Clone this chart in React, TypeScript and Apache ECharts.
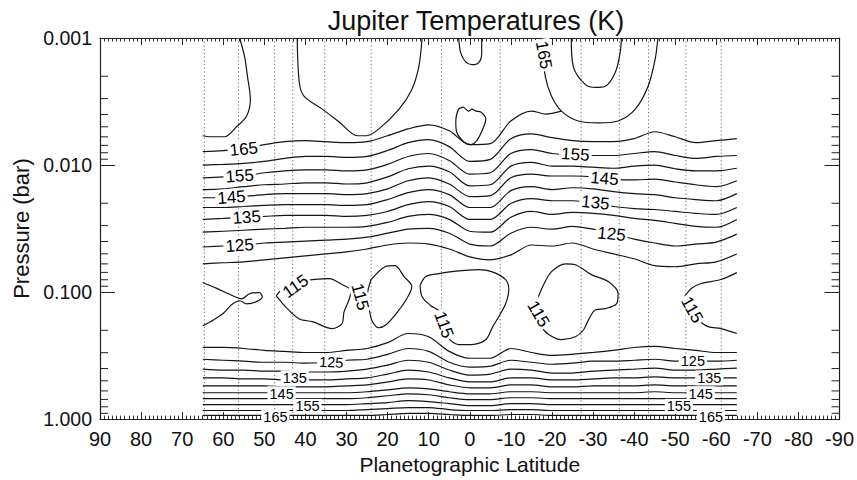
import React, { useEffect, useRef } from 'react';
import * as echarts from 'echarts';

const FONT = '"Liberation Sans", Arial, Helvetica, sans-serif';
const INK = '#151515';

// latitudes (deg) at which the stacked isotherms are sampled
const LAT_GRID = [65, 60, 55, 50, 45, 40, 35, 30, 25, 20, 15, 10, 5, 0, -5, -10, -15, -20, -25, -30, -35, -40, -45, -50, -55, -60, -65];

// upper-troposphere / stratosphere isotherms, pressure (bar) on LAT_GRID
const LAT_165 = [65, 60, 55, 50, 45, 40, 35, 30, 25, 20, 15, 10, 5, 0, -5, -10, -15, -18.5, -22.3];
const P_165 = [0.00783, 0.00769, 0.00742, 0.00691, 0.00655, 0.00643, 0.00655, 0.00667, 0.00655, 0.00588, 0.00519, 0.00483, 0.00538, 0.00691, 0.00679, 0.0045, 0.00376, 0.00397, 0.00376];
const P_160 = [0.01, 0.00988, 0.0097, 0.00936, 0.00887, 0.00856, 0.00856, 0.00871, 0.00856, 0.00769, 0.00667, 0.00632, 0.00716, 0.00936, 0.00903, 0.0062, 0.00568, 0.00609, 0.00643, 0.00655, 0.00655, 0.0062, 0.00547, 0.00599, 0.00667, 0.00643, 0.0062];
const P_155 = [0.0126, 0.0124, 0.0122, 0.0115, 0.0111, 0.0109, 0.0109, 0.0111, 0.0109, 0.00988, 0.00856, 0.00811, 0.0092, 0.0118, 0.0115, 0.00811, 0.00755, 0.00811, 0.00826, 0.00841, 0.00841, 0.00811, 0.00783, 0.00841, 0.00887, 0.00856, 0.00841];
const P_150 = [0.0156, 0.0154, 0.0148, 0.0143, 0.0141, 0.0138, 0.0138, 0.0141, 0.0138, 0.0124, 0.0107, 0.0102, 0.0113, 0.0146, 0.0143, 0.0102, 0.00953, 0.0102, 0.0102, 0.0104, 0.0106, 0.0102, 0.01, 0.0107, 0.0111, 0.0111, 0.0106];
const P_145 = [0.0181, 0.0181, 0.0177, 0.0171, 0.0168, 0.0168, 0.0168, 0.0171, 0.0168, 0.0154, 0.0133, 0.0126, 0.0141, 0.0177, 0.0174, 0.0126, 0.0118, 0.0122, 0.0122, 0.0124, 0.0131, 0.0131, 0.0129, 0.0136, 0.0143, 0.0148, 0.0133];
const P_140 = [0.0216, 0.0216, 0.0212, 0.0208, 0.0205, 0.0205, 0.0205, 0.0208, 0.0205, 0.0187, 0.0165, 0.0156, 0.0171, 0.0216, 0.0216, 0.0159, 0.0148, 0.0156, 0.0151, 0.0154, 0.0162, 0.0168, 0.0171, 0.0181, 0.0187, 0.0191, 0.0168];
const P_135 = [0.0268, 0.0263, 0.0258, 0.0254, 0.0249, 0.0249, 0.0249, 0.0254, 0.0249, 0.0232, 0.0205, 0.0194, 0.0212, 0.0268, 0.0268, 0.0201, 0.0184, 0.0191, 0.0191, 0.0198, 0.0212, 0.022, 0.0224, 0.0232, 0.024, 0.0245, 0.0216];
const P_130 = [0.0338, 0.0332, 0.0326, 0.032, 0.0315, 0.0309, 0.0309, 0.0309, 0.0304, 0.0283, 0.0254, 0.0245, 0.0268, 0.0332, 0.0338, 0.0258, 0.0232, 0.0245, 0.0236, 0.024, 0.0249, 0.0263, 0.0273, 0.0288, 0.0304, 0.0309, 0.0268];
const P_125 = [0.0442, 0.0434, 0.0426, 0.0411, 0.0404, 0.0397, 0.039, 0.0383, 0.037, 0.0344, 0.032, 0.0315, 0.0344, 0.0419, 0.0434, 0.0344, 0.0309, 0.032, 0.0304, 0.032, 0.035, 0.0383, 0.0411, 0.0434, 0.0419, 0.0404, 0.035];
const P_120 = [0.0599, 0.0588, 0.0578, 0.0557, 0.0538, 0.0519, 0.0501, 0.0483, 0.0458, 0.0426, 0.0411, 0.0419, 0.0458, 0.0528, 0.0557, 0.051, 0.0426, 0.0434, 0.0411, 0.0458, 0.0501, 0.0547, 0.062, 0.0632, 0.0599, 0.0578, 0.0501];

// lower-troposphere isotherms, pressure (bar) on LAT_GRID
const PL_120 = [0.273, 0.273, 0.278, 0.288, 0.293, 0.299, 0.299, 0.288, 0.278, 0.25, 0.212, 0.225, 0.293, 0.332, 0.332, 0.278, 0.299, 0.315, 0.309, 0.299, 0.288, 0.273, 0.268, 0.278, 0.288, 0.299, 0.299];
const PL_125 = [0.338, 0.344, 0.35, 0.357, 0.357, 0.363, 0.357, 0.344, 0.338, 0.309, 0.278, 0.293, 0.357, 0.39, 0.383, 0.344, 0.357, 0.37, 0.363, 0.35, 0.35, 0.344, 0.338, 0.35, 0.35, 0.35, 0.344];
const PL_130 = [0.404, 0.411, 0.411, 0.419, 0.419, 0.426, 0.426, 0.419, 0.404, 0.376, 0.344, 0.357, 0.411, 0.45, 0.442, 0.404, 0.411, 0.434, 0.434, 0.419, 0.411, 0.404, 0.397, 0.411, 0.411, 0.404, 0.397];
const PL_135 = [0.474, 0.474, 0.483, 0.483, 0.492, 0.492, 0.492, 0.483, 0.474, 0.442, 0.411, 0.426, 0.474, 0.51, 0.51, 0.474, 0.474, 0.492, 0.492, 0.483, 0.474, 0.474, 0.466, 0.474, 0.474, 0.474, 0.474];
const PL_140 = [0.547, 0.547, 0.547, 0.547, 0.557, 0.557, 0.557, 0.547, 0.538, 0.51, 0.483, 0.492, 0.538, 0.567, 0.567, 0.538, 0.538, 0.557, 0.557, 0.547, 0.547, 0.547, 0.538, 0.547, 0.547, 0.547, 0.547];
const PL_145 = [0.62, 0.62, 0.62, 0.62, 0.62, 0.62, 0.62, 0.62, 0.609, 0.588, 0.567, 0.578, 0.609, 0.632, 0.632, 0.609, 0.609, 0.62, 0.62, 0.62, 0.62, 0.62, 0.609, 0.62, 0.62, 0.62, 0.62];
const PL_150 = [0.691, 0.691, 0.691, 0.691, 0.691, 0.691, 0.691, 0.691, 0.679, 0.655, 0.632, 0.643, 0.679, 0.703, 0.703, 0.679, 0.679, 0.691, 0.691, 0.691, 0.691, 0.691, 0.691, 0.691, 0.691, 0.691, 0.691];
const PL_155 = [0.769, 0.769, 0.769, 0.769, 0.769, 0.769, 0.769, 0.769, 0.755, 0.742, 0.716, 0.729, 0.755, 0.783, 0.783, 0.755, 0.755, 0.769, 0.769, 0.769, 0.769, 0.769, 0.769, 0.769, 0.769, 0.769, 0.769];
const PL_160 = [0.856, 0.856, 0.856, 0.856, 0.856, 0.856, 0.856, 0.856, 0.841, 0.826, 0.811, 0.811, 0.841, 0.856, 0.856, 0.841, 0.841, 0.856, 0.856, 0.856, 0.856, 0.856, 0.856, 0.856, 0.856, 0.856, 0.856];
const PL_165 = [0.936, 0.936, 0.936, 0.936, 0.936, 0.936, 0.936, 0.936, 0.936, 0.92, 0.903, 0.903, 0.92, 0.936, 0.936, 0.92, 0.92, 0.936, 0.936, 0.936, 0.936, 0.936, 0.936, 0.936, 0.936, 0.936, 0.936];

// cold 115 K pockets near the tropopause, [latitude, pressure]
const COLD_A: [number, number][] = [[65, 0.0841], [61.6, 0.0936], [57.7, 0.107], [55.55, 0.113], [53.6, 0.103], [51.2, 0.101], [50.5, 0.109], [51.9, 0.119], [54.3, 0.124], [56, 0.117], [58, 0.126], [59.9, 0.146], [62.3, 0.165], [64.5, 0.181], [65, 0.184]];
const COLD_B: [number, number][] = [[47.1, 0.107], [45.1, 0.0903], [42.7, 0.0826], [38.3, 0.0797], [34.2, 0.0783], [31.1, 0.0871], [28.9, 0.097], [29.4, 0.115], [30.6, 0.143], [31.1, 0.177], [33.5, 0.194], [38.3, 0.171], [41.5, 0.163], [44.6, 0.133], [47.1, 0.107]];
const COLD_C: [number, number][] = [[24, 0.0797], [20.6, 0.0632], [18.2, 0.062], [16, 0.0755], [14.1, 0.0903], [15.5, 0.115], [18, 0.149], [20.4, 0.181], [22.1, 0.191], [23.8, 0.168], [24.5, 0.135], [25, 0.109], [24, 0.0797]];
const COLD_D: [number, number][] = [[12.1, 0.0887], [10.7, 0.0755], [7.5, 0.0716], [4.4, 0.0691], [-2.2, 0.0667], [-5.3, 0.0691], [-8.7, 0.0797], [-9.5, 0.0953], [-8.7, 0.124], [-7, 0.157], [-5.6, 0.187], [-3.9, 0.237], [-0.5, 0.259], [2.7, 0.259], [5.1, 0.233], [5.8, 0.194], [7.5, 0.141], [9.5, 0.128], [11.6, 0.109], [12.1, 0.0887]];
const COLD_E: [number, number][] = [[-16.7, 0.109], [-18, 0.0871], [-19.9, 0.0691], [-23.3, 0.0599], [-25.7, 0.0609], [-29.6, 0.0729], [-33.7, 0.0826], [-36.1, 0.103], [-35.7, 0.124], [-33, 0.135], [-30.6, 0.138], [-28.9, 0.165], [-27.7, 0.198], [-25.7, 0.225], [-22.3, 0.237], [-19.2, 0.216], [-17.5, 0.187], [-16.3, 0.131], [-16.7, 0.109]];
const COLD_F: [number, number][] = [[-65, 0.0703], [-61.1, 0.0797], [-56.3, 0.0856], [-53.9, 0.0936], [-52.6, 0.105], [-51.9, 0.117], [-53.1, 0.135], [-55.5, 0.165], [-58, 0.187], [-61.1, 0.194], [-63.6, 0.205], [-65, 0.212]];

// warm stratospheric isotherms reaching the top boundary
const WARM_NORTH: [number, number][] = [[65, 0.00588], [63.3, 0.00599], [59.7, 0.00599], [56.8, 0.00501], [54.3, 0.00411], [53.4, 0.00304], [54.1, 0.00201], [54.8, 0.00141], [56, 0.001]];
const WARM_MID: [number, number][] = [[42, 0.001], [41.5, 0.00224], [40.3, 0.00288], [35.9, 0.00363], [31.8, 0.00458], [27.4, 0.00588], [25.2, 0.00588], [22.1, 0.00519], [17.2, 0.00363], [14.1, 0.00254], [12.4, 0.00168], [11.6, 0.001]];
const WARM_EQ_TOP: [number, number][] = [[2.7, 0.001], [2.2, 0.00131], [1, 0.00154], [-0.5, 0.00162], [-2.2, 0.00156], [-2.9, 0.00131], [-2.9, 0.001]];
const WARM_EQ_CELL: [number, number][] = [[1.5, 0.0035], [2.7, 0.00363], [3.4, 0.00458], [3.2, 0.00547], [1.5, 0.00655], [-0.2, 0.00691], [-1.7, 0.00643], [-3.2, 0.00519], [-3.9, 0.00434], [-2.7, 0.00383], [-1.5, 0.00376], [-0.5, 0.00363], [0.2, 0.00376], [1.5, 0.0035]];
const WARM_SOUTH: [number, number][] = [[-17.2, 0.001], [-18.4, 0.00201], [-19.9, 0.00288], [-22.3, 0.00376], [-26.4, 0.0045], [-31.3, 0.00466], [-36.1, 0.0045], [-40.3, 0.00363], [-43.4, 0.0024], [-45.1, 0.00148], [-45.8, 0.001]];
const WARM_SOUTH_IN: [number, number][] = [[-24.7, 0.001], [-25.2, 0.00168], [-28.1, 0.00232], [-30.6, 0.00245], [-33, 0.0024], [-35.4, 0.00187], [-36.6, 0.00131], [-36.9, 0.001]];

// contour labels: [text, latitude, pressure, rotation in degrees]
const LABELS_UPPER: [string, number, number, number][] = [
  ['165', 55, 0.0075, 6], ['155', 56, 0.0122, 4], ['145', 58, 0.018, 4], ['135', 54.3, 0.0258, 4], ['125', 56, 0.043, 4],
  ['155', -25.7, 0.00826, -4], ['145', -32.8, 0.0128, -5], ['135', -30.6, 0.0198, -6], ['125', -34.5, 0.035, -6],
  ['165', -18, 0.00136, -80],
  ['115', 42.4, 0.0903, 35], ['115', 26.7, 0.109, -75], ['115', 6.3, 0.181, -70], ['115', -16.7, 0.149, -60], ['115', -54.1, 0.138, -60],
];
const LABELS_LOWER: [string, number, number, number][] = [
  ['125', 33.7, 0.357, -3], ['135', 42.6, 0.474, 0], ['145', 45.8, 0.632, 0], ['155', 39.5, 0.794, 0], ['165', 47.3, 0.96, 0],
  ['125', -54.3, 0.352, 0], ['135', -58.3, 0.474, 0], ['145', -56.2, 0.632, 0], ['155', -50.9, 0.794, 0], ['165', -58.7, 0.96, 0],
];

// latitudes of the dotted reference meridians
const DOTTED_LATS = [64.6, 56.3, 47.5, 43.1, 35.3, 24.0, 6.9, -7.4, -27.1, -36.4, -43.5, -52.6, -61.2];

// log-axis minor tick values (bar)
const MINOR_P = [0.002, 0.003, 0.004, 0.005, 0.006, 0.007, 0.008, 0.009, 0.02, 0.03, 0.04, 0.05, 0.06, 0.07, 0.08, 0.09, 0.2, 0.3, 0.4, 0.5, 0.6, 0.7, 0.8, 0.9];

const onGrid = (p: number[]) => LAT_GRID.map((lat, i) => [lat, p[i]]);

function contour(data: number[][]) {
  return {
    type: 'line',
    data,
    showSymbol: false,
    symbol: 'none',
    smooth: 0.3,
    silent: true,
    z: 2,
    lineStyle: { color: INK, width: 1.2 },
  };
}

// level labels drawn at their contour positions, with a white box breaking the line
function labelSeries(rows: [string, number, number, number][], fontSize: number) {
  return {
    type: 'custom',
    data: rows.map(([, lat, p]) => [lat, p]),
    encode: { x: 0, y: 1 },
    silent: true,
    z: 6,
    renderItem: (params: any, api: any) => {
      const [text, , , rot] = rows[params.dataIndex];
      const c = api.coord([api.value(0), api.value(1)]);
      return {
        type: 'text',
        x: c[0],
        y: c[1],
        rotation: (rot * Math.PI) / 180,
        style: {
          text,
          fill: '#000',
          font: `${fontSize}px ${FONT}`,
          align: 'center',
          verticalAlign: 'middle',
          backgroundColor: '#fff',
          padding: [0, 2],
        },
      };
    },
  };
}

export default function App() {
  const ref = useRef<HTMLDivElement>(null);

  useEffect(() => {
    if (!ref.current) return;
    const chart = echarts.init(ref.current, undefined, { renderer: 'svg' });

    const upper = [P_160, P_155, P_150, P_145, P_140, P_135, P_130, P_125, P_120];
    const lower = [PL_120, PL_125, PL_130, PL_135, PL_140, PL_145, PL_150, PL_155, PL_160, PL_165];
    const pockets = [COLD_A, COLD_B, COLD_C, COLD_D, COLD_E, COLD_F, WARM_NORTH, WARM_MID, WARM_EQ_TOP, WARM_EQ_CELL, WARM_SOUTH, WARM_SOUTH_IN];

    const axisLine = { show: true, onZero: false, lineStyle: { color: '#222', width: 1.2 } };
    const xBase = {
      type: 'value', min: -90, max: 90, interval: 10, inverse: true,
      axisLine,
      axisTick: { show: true, inside: true, length: 7, lineStyle: { color: '#222', width: 1 } },
      minorTick: { show: true, splitNumber: 10, length: 3.5, lineStyle: { color: '#333', width: 1 } },
      splitLine: { show: false },
    };
    const yBase = {
      type: 'log', logBase: 10, min: 0.001, max: 1, inverse: true,
      axisLine,
      axisTick: { show: true, inside: true, length: 15, lineStyle: { color: '#222', width: 1 } },
      splitLine: { show: false },
    };

    const series: any[] = [
      {
        type: 'custom',
        data: DOTTED_LATS.map((lat) => [lat, 0.001]),
        encode: { x: 0, y: 1 },
        silent: true,
        z: 1,
        renderItem: (_params: any, api: any) => {
          const lat = api.value(0);
          const a = api.coord([lat, 0.001]);
          const b = api.coord([lat, 1]);
          return {
            type: 'line',
            shape: { x1: a[0], y1: a[1], x2: b[0], y2: b[1] },
            style: { stroke: '#777', lineWidth: 1, lineDash: [1.3, 2.4] },
          };
        },
      },
      {
        type: 'custom',
        data: MINOR_P.map((p) => [90, p]),
        encode: { x: 0, y: 1 },
        silent: true,
        z: 5,
        renderItem: (_params: any, api: any) => {
          const p = api.value(1);
          const l = api.coord([90, p]);
          const r = api.coord([-90, p]);
          const st = { stroke: '#222', lineWidth: 1 };
          return {
            type: 'group',
            children: [
              { type: 'line', shape: { x1: l[0], y1: l[1], x2: l[0] + 8, y2: l[1] }, style: st },
              { type: 'line', shape: { x1: r[0], y1: r[1], x2: r[0] - 8, y2: r[1] }, style: st },
            ],
          };
        },
      },
      contour(LAT_165.map((lat, i) => [lat, P_165[i]])),
      ...upper.map((p) => contour(onGrid(p))),
      ...lower.map((p) => contour(onGrid(p))),
      ...pockets.map((d) => contour(d)),
      labelSeries(LABELS_UPPER, 17),
      labelSeries(LABELS_LOWER, 14.5),
    ];

    chart.setOption({
      animation: false,
      backgroundColor: '#fff',
      title: {
        text: 'Jupiter Temperatures (K)',
        left: 471,
        top: 2,
        textAlign: 'center',
        textStyle: { fontSize: 27, fontWeight: 'normal', color: '#111', fontFamily: FONT },
      },
      grid: { left: 100, right: 15, top: 38, bottom: 56, containLabel: false },
      xAxis: [
        {
          ...xBase,
          position: 'bottom',
          axisLabel: { show: true, fontSize: 20, color: '#111', margin: 10, fontFamily: FONT },
          name: 'Planetographic Latitude',
          nameLocation: 'middle',
          nameGap: 33,
          nameTextStyle: { fontSize: 21, color: '#111', fontFamily: FONT },
        },
        { ...xBase, position: 'top', axisLabel: { show: false } },
      ],
      yAxis: [
        {
          ...yBase,
          position: 'left',
          axisLabel: {
            show: true, fontSize: 19.5, color: '#111', margin: 8, fontFamily: FONT,
            formatter: (v: number) => Number(v).toFixed(3),
          },
          name: 'Pressure (bar)',
          nameLocation: 'middle',
          nameGap: 68,
          nameTextStyle: { fontSize: 22, color: '#111', fontFamily: FONT },
        },
        { ...yBase, position: 'right', axisLabel: { show: false } },
      ],
      series,
    });

    return () => chart.dispose();
  }, []);

  return (
    <div
      ref={ref}
      style={{ position: 'fixed', left: 0, top: 0, width: 857, height: 480, background: '#fff' }}
    />
  );
}
